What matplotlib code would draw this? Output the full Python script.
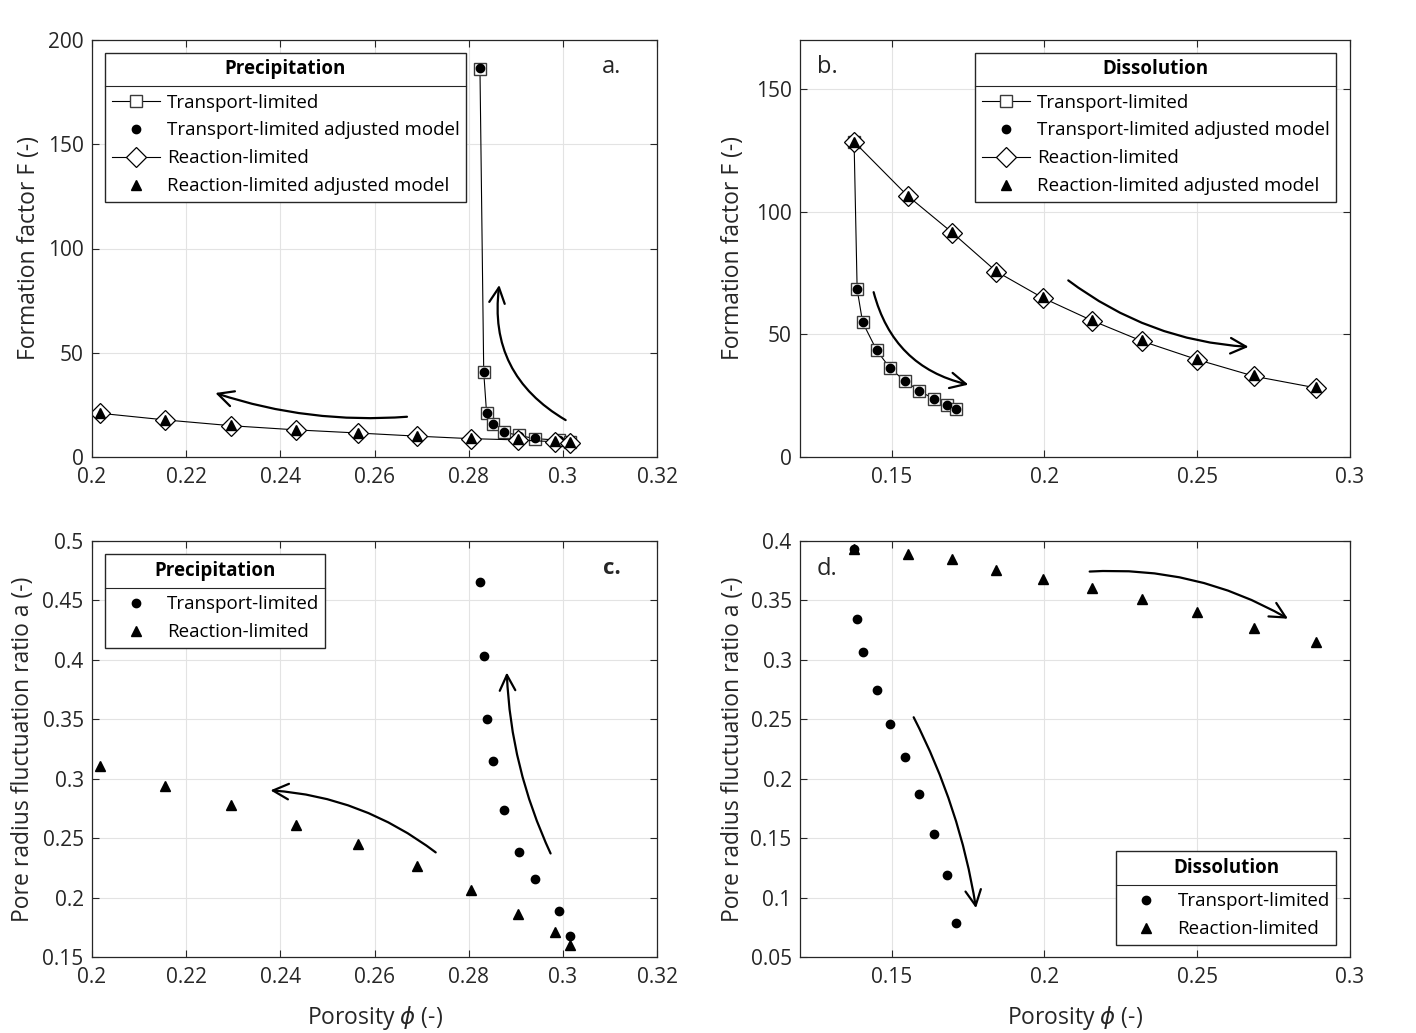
import matplotlib
matplotlib.use('Agg')
import matplotlib.pyplot as plt
from matplotlib.lines import Line2D

plt.rcParams['font.family'] = ['Open Sans', 'DejaVu Sans']
plt.rcParams['mathtext.fontset'] = 'dejavusans'

# ---------------- data ----------------
# Precipitation (panels a, c)
phi_prec_trans = [0.2824, 0.2832, 0.2838, 0.2852, 0.2875, 0.2906, 0.2941, 0.2992, 0.3016]
F_prec_trans = [186.0, 40.6, 21.2, 15.9, 11.9, 10.4, 8.8, 8.1, 7.3]
F_prec_trans_adj = [186.5, 40.8, 21.2, 15.9, 11.9, 10.2, 9.0, 8.0, 7.4]
phi_prec_reac = [0.2016, 0.2155, 0.2296, 0.2434, 0.2565, 0.2690, 0.2804, 0.2905, 0.2983, 0.3015]
F_prec_reac = [21.0, 17.8, 15.0, 13.0, 11.5, 10.0, 8.8, 8.2, 7.3, 6.8]
F_prec_reac_adj = [21.2, 17.6, 15.2, 13.1, 11.6, 10.1, 9.0, 8.6, 7.5, 7.0]
a_prec_trans = [0.4656, 0.4036, 0.3500, 0.3145, 0.2735, 0.2385, 0.2154, 0.1883, 0.1673]
a_prec_reac = [0.3106, 0.2936, 0.2777, 0.2609, 0.2447, 0.2265, 0.2064, 0.1863, 0.1709, 0.1603]

# Dissolution (panels b, d)
phi_diss_trans = [0.1377, 0.1387, 0.1405, 0.1451, 0.1494, 0.1543, 0.1589, 0.1637, 0.1681, 0.1710]
F_diss_trans = [128.5, 68.4, 54.9, 43.5, 36.3, 31.0, 27.1, 23.7, 21.4, 19.6]
F_diss_trans_adj = [128.3, 68.4, 54.9, 43.5, 36.3, 31.0, 27.1, 23.7, 21.4, 19.6]
phi_diss_reac = [0.1377, 0.1552, 0.1698, 0.1843, 0.1994, 0.2156, 0.2320, 0.2500, 0.2687, 0.2888]
F_diss_reac = [128.5, 106.5, 91.5, 75.6, 64.9, 55.6, 47.2, 39.7, 32.9, 28.2]
F_diss_reac_adj = [128.5, 106.5, 91.9, 76.0, 65.4, 55.7, 47.6, 40.1, 33.3, 28.6]
a_diss_trans = [0.3936, 0.3341, 0.3070, 0.2749, 0.2461, 0.2179, 0.1874, 0.1531, 0.1190, 0.0782]
a_diss_reac = [0.3930, 0.3894, 0.3846, 0.3754, 0.3684, 0.3606, 0.3508, 0.3402, 0.3265, 0.3154]

# axis ticks
xt_prec = [0.2, 0.22, 0.24, 0.26, 0.28, 0.3, 0.32]
xt_prec_lbl = ['0.2', '0.22', '0.24', '0.26', '0.28', '0.3', '0.32']
xt_diss = [0.15, 0.2, 0.25, 0.3]
xt_diss_lbl = ['0.15', '0.2', '0.25', '0.3']
yt_a = [0, 50, 100, 150, 200]
yt_b = [0, 50, 100, 150]
yt_c = [0.15, 0.2, 0.25, 0.3, 0.35, 0.4, 0.45, 0.5]
yt_c_lbl = ['0.15', '0.2', '0.25', '0.3', '0.35', '0.4', '0.45', '0.5']
yt_d = [0.05, 0.1, 0.15, 0.2, 0.25, 0.3, 0.35, 0.4]
yt_d_lbl = ['0.05', '0.1', '0.15', '0.2', '0.25', '0.3', '0.35', '0.4']

# direction arrows (start, end, curvature)
arrows_a = [((0.2669, 19.3), (0.2262, 30.7), -0.10), ((0.3006, 17.7), (0.2865, 82.5), -0.33)]
arrows_b = [((0.1441, 67.2), (0.1751, 29.5), 0.3), ((0.2078, 72.0), (0.2668, 44.9), 0.15)]
arrows_c = [((0.2730, 0.238), (0.2379, 0.2902), 0.15), ((0.2974, 0.2371), (0.2881, 0.3894), -0.1)]
arrows_d = [((0.1572, 0.2517), (0.1776, 0.0911), -0.08), ((0.2148, 0.3743), (0.2797, 0.3346), -0.15)]

# ---------------- figure ----------------
W, H = 1416, 1033
fig = plt.figure(figsize=(W / 100, H / 100), dpi=100)
SP = '#262626'
TICK_FS = 15
LEG_FS = 13.5
LAB_FS = 16.5


def px_axes(l, r, t, b):
    return fig.add_axes([l / W, (H - b) / H, (r - l) / W, (b - t) / H])


axa = px_axes(92, 657, 40, 457)
axb = px_axes(800, 1350, 40, 457)
axc = px_axes(92, 657, 541, 957)
axd = px_axes(800, 1350, 541, 957)


def style(ax):
    ax.grid(True, color='#e3e3e3', lw=0.8)
    ax.set_axisbelow(True)
    for s in ax.spines.values():
        s.set_color(SP)
        s.set_linewidth(0.9)
    ax.tick_params(direction='in', top=True, right=True, length=5, width=0.8,
                   colors=SP, labelsize=TICK_FS)
    ax.tick_params(axis='x', pad=7)
    ax.tick_params(axis='y', pad=6)


sq = dict(marker='s', ms=9, mfc='white', mec='#3a3a3a', mew=1.0, color='k', lw=0.8)
dm = dict(marker='D', ms=9.8, mfc='white', mec='k', mew=0.9, color='k', lw=0.8)
ci = dict(marker='o', ms=6, color='k', ls='none')
tr = dict(marker='^', ms=7.5, color='k', ls='none')


def arrows(ax, arr):
    for st, en, rad in arr:
        ax.annotate('', xy=en, xytext=st,
                    arrowprops=dict(arrowstyle='->', connectionstyle='arc3,rad=%g' % rad,
                                    lw=1.6, color='k', mutation_scale=28,
                                    shrinkA=0, shrinkB=0))


legkw = dict(fontsize=LEG_FS, title_fontproperties={'weight': 'bold', 'size': LEG_FS},
             fancybox=False, edgecolor=SP, framealpha=1, borderaxespad=0,
             handlelength=2.57, handletextpad=0.37, labelspacing=0.53, borderpad=0.35)


def fix_legend(leg):
    leg._legend_box.sep = 10.4


# panel a
ax = axa
style(ax)
l1, = ax.plot(phi_prec_trans, F_prec_trans, **sq)
l2, = ax.plot(phi_prec_trans, F_prec_trans_adj, **ci)
l3, = ax.plot(phi_prec_reac, F_prec_reac, **dm)
l4, = ax.plot(phi_prec_reac, F_prec_reac_adj, **tr)
ax.set_xlim(0.2, 0.32)
ax.set_ylim(0, 200)
ax.set_xticks(xt_prec, xt_prec_lbl)
ax.set_yticks(yt_a)
ax.set_ylabel('Formation factor F (-)', fontsize=LAB_FS, color=SP)
arrows(ax, arrows_a)
leg_a = ax.legend([l1, l2, l3, l4], ['Transport-limited', 'Transport-limited adjusted model',
                                      'Reaction-limited', 'Reaction-limited adjusted model'],
                  title='Precipitation', loc='upper left', bbox_to_anchor=(0.023, 0.97), **legkw)
fix_legend(leg_a)
ax.text(0.92, 0.935, 'a.', transform=ax.transAxes, fontsize=17, ha='center', va='center', color=SP)

# panel b
ax = axb
style(ax)
l1, = ax.plot(phi_diss_trans, F_diss_trans, **sq)
l2, = ax.plot(phi_diss_trans, F_diss_trans_adj, **ci)
l3, = ax.plot(phi_diss_reac, F_diss_reac, **dm)
l4, = ax.plot(phi_diss_reac, F_diss_reac_adj, **tr)
ax.set_xlim(0.12, 0.3)
ax.set_ylim(0, 170)
ax.set_xticks(xt_diss, xt_diss_lbl)
ax.set_yticks(yt_b)
ax.set_ylabel('Formation factor F (-)', fontsize=LAB_FS, color=SP)
arrows(ax, arrows_b)
leg_b = ax.legend([l1, l2, l3, l4], ['Transport-limited', 'Transport-limited adjusted model',
                                      'Reaction-limited', 'Reaction-limited adjusted model'],
                  title='Dissolution', loc='upper right', bbox_to_anchor=(0.975, 0.97), **legkw)
fix_legend(leg_b)
ax.text(0.05, 0.935, 'b.', transform=ax.transAxes, fontsize=17, ha='center', va='center', color=SP)

# panel c
ax = axc
style(ax)
l1, = ax.plot(phi_prec_trans, a_prec_trans, **ci)
l2, = ax.plot(phi_prec_reac, a_prec_reac, **tr)
ax.set_xlim(0.2, 0.32)
ax.set_ylim(0.15, 0.5)
ax.set_xticks(xt_prec, xt_prec_lbl)
ax.set_yticks(yt_c, yt_c_lbl)
ax.set_ylabel('Pore radius fluctuation ratio a (-)', fontsize=LAB_FS, color=SP)
ax.set_xlabel(r'Porosity $\phi$ (-)', fontsize=LAB_FS, color=SP, labelpad=12)
arrows(ax, arrows_c)
leg_c = ax.legend([l1, l2], ['Transport-limited', 'Reaction-limited'],
                  title='Precipitation', loc='upper left', bbox_to_anchor=(0.023, 0.968), **legkw)
fix_legend(leg_c)
ax.text(0.92, 0.933, 'c.', transform=ax.transAxes, fontsize=16, ha='center', va='center',
        color=SP, weight='bold')

# panel d
ax = axd
style(ax)
l1, = ax.plot(phi_diss_trans, a_diss_trans, **ci)
l2, = ax.plot(phi_diss_reac, a_diss_reac, **tr)
ax.set_xlim(0.12, 0.3)
ax.set_ylim(0.05, 0.4)
ax.set_xticks(xt_diss, xt_diss_lbl)
ax.set_yticks(yt_d, yt_d_lbl)
ax.set_ylabel('Pore radius fluctuation ratio a (-)', fontsize=LAB_FS, color=SP)
ax.set_xlabel(r'Porosity $\phi$ (-)', fontsize=LAB_FS, color=SP, labelpad=12)
arrows(ax, arrows_d)
leg_d = ax.legend([l1, l2], ['Transport-limited', 'Reaction-limited'],
                  title='Dissolution', loc='lower right', bbox_to_anchor=(0.975, 0.029), **legkw)
fix_legend(leg_d)
ax.text(0.05, 0.933, 'd.', transform=ax.transAxes, fontsize=17, ha='center', va='center', color=SP)

axa.yaxis.set_label_coords(-0.09, 0.5)
axb.yaxis.set_label_coords(-0.10, 0.5)
axc.yaxis.set_label_coords(-0.10, 0.5)
axd.yaxis.set_label_coords(-0.10, 0.5)

# separator lines under legend titles
fig.canvas.draw()
r = fig.canvas.get_renderer()
inv = fig.transFigure.inverted()
for leg in (leg_a, leg_b, leg_c, leg_d):
    fb = leg.get_frame().get_window_extent(r)
    tb = leg.get_title().get_window_extent(r)
    hb = leg._legend_handle_box.get_window_extent(r)
    y = 0.5 * (tb.y0 + hb.y1)
    (x0, yy), (x1, _) = inv.transform([(fb.x0, y), (fb.x1, y)])
    fig.add_artist(Line2D([x0, x1], [yy, yy], transform=fig.transFigure, color=SP, lw=0.8))

fig.savefig('out.png', dpi=100)
